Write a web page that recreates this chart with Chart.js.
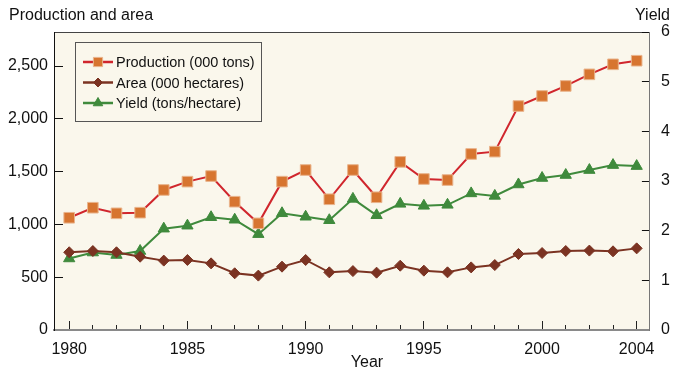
<!DOCTYPE html>
<html>
<head>
<meta charset="utf-8">
<script src="https://cdn.jsdelivr.net/npm/chart.js@4/dist/chart.umd.min.js"></script>
<style>
    html, body { margin: 0; padding: 0; background: #fff; }
    #wrap { position: relative; width: 674px; height: 371px; }
</style>
</head>
<body>
<div id="wrap"><canvas id="chart" width="674" height="371"></canvas></div>
<script>
const years = [1980, 1981, 1982, 1983, 1984, 1985, 1986, 1987, 1988, 1989, 1990, 1991, 1992,
    1993, 1994, 1995, 1996, 1997, 1998, 1999, 2000, 2001, 2002, 2003, 2004];
const production = [1063, 1158, 1105, 1111, 1326, 1405, 1458, 1215, 1010, 1405, 1515, 1238, 1515,
    1257, 1592, 1430, 1420, 1667, 1689, 2121, 2216, 2311, 2421, 2516, 2550];
const area = [736, 748, 736, 694, 657, 663, 631, 537, 515, 600, 663, 546, 558,
    543, 609, 562, 546, 593, 615, 720, 729, 748, 752, 745, 773];
const yieldVals = [1.44, 1.56, 1.51, 1.59, 2.04, 2.10, 2.27, 2.22, 1.93, 2.35, 2.28, 2.21, 2.64,
    2.31, 2.54, 2.50, 2.52, 2.75, 2.70, 2.93, 3.06, 3.12, 3.22, 3.32, 3.30];
const leftTicks = [0, 500, 1000, 1500, 2000, 2500];
const rightTicks = [0, 1, 2, 3, 4, 5, 6];
const majorYears = [1980, 1985, 1990, 1995, 2000, 2004];
const seriesNames = ['Production (000 tons)', 'Area (000 hectares)', 'Yield (tons/hectare)'];

const FONT = '"Liberation Sans", Arial, sans-serif';
const PLOT_BG = '#FAF7EC';
Chart.defaults.font.family = FONT;
Chart.defaults.color = '#111';

const pts = (vals) => years.map((y, i) => ({ x: y, y: vals[i] }));

// plot background, top frame, headings, boxed legend
const decor = {
    id: 'decor',
    beforeDraw(chart) {
        const { ctx, chartArea: a } = chart;
        ctx.save();
        ctx.fillStyle = PLOT_BG;
        ctx.fillRect(a.left, a.top, a.right - a.left, a.bottom - a.top);
        ctx.strokeStyle = '#444';
        ctx.lineWidth = 1;
        ctx.beginPath();
        ctx.moveTo(a.left, a.top + 0.5);
        ctx.lineTo(a.right, a.top + 0.5);
        ctx.stroke();
        ctx.restore();
    },
    afterDraw(chart) {
        const { ctx } = chart;
        ctx.save();
        ctx.fillStyle = '#111';
        ctx.font = '16px ' + FONT;
        ctx.textBaseline = 'alphabetic';
        ctx.textAlign = 'left';
        ctx.fillText('Production and area', 9, 20);
        ctx.textAlign = 'right';
        ctx.fillText('Yield', 670, 20);
        ctx.textAlign = 'center';
        ctx.fillText('Year', 367, 367);

        // legend box
        ctx.fillStyle = PLOT_BG;
        ctx.fillRect(75.5, 42.5, 186, 79);
        ctx.strokeStyle = '#555';
        ctx.lineWidth = 1;
        ctx.strokeRect(75.5, 42.5, 186, 79);
        const rows = [62, 82.5, 103];
        chart.data.datasets.forEach((ds, i) => {
            const y = rows[i];
            ctx.strokeStyle = ds.borderColor;
            ctx.lineWidth = 2.5;
            ctx.beginPath();
            ctx.moveTo(83, y);
            ctx.lineTo(113, y);
            ctx.stroke();
            ctx.fillStyle = ds.pointBackgroundColor;
            ctx.strokeStyle = ds.pointBorderColor;
            ctx.lineWidth = ds.pointBorderWidth;
            Chart.helpers.drawPoint(ctx, { pointStyle: ds.pointStyle, radius: ds.pointRadius - 1, rotation: 0, borderWidth: ds.pointBorderWidth }, 98, y);
            ctx.fillStyle = '#111';
            ctx.font = '14.5px ' + FONT;
            ctx.textAlign = 'left';
            ctx.textBaseline = 'middle';
            ctx.fillText(seriesNames[i], 116, y + 1);
        });
        ctx.restore();
    }
};

new Chart(document.getElementById('chart'), {
    type: 'line',
    data: {
        datasets: [
            {
                label: seriesNames[0], data: pts(production), yAxisID: 'y',
                borderColor: '#D0262D', borderWidth: 2,
                pointStyle: 'rect', pointRadius: 7.5,
                pointBackgroundColor: '#D77530', pointBorderColor: '#E9B48C', pointBorderWidth: 1,
            },
            {
                label: seriesNames[1], data: pts(area), yAxisID: 'y',
                borderColor: '#7B3322', borderWidth: 2,
                pointStyle: 'rectRot', pointRadius: 5.5,
                pointBackgroundColor: '#7B3322', pointBorderColor: '#7B3322', pointBorderWidth: 1,
            },
            {
                label: seriesNames[2], data: pts(yieldVals), yAxisID: 'y1',
                borderColor: '#3F8A3C', borderWidth: 2,
                pointStyle: 'triangle', pointRadius: 6.5,
                pointBackgroundColor: '#3F8A3C', pointBorderColor: '#3F8A3C', pointBorderWidth: 1,
            },
        ],
    },
    options: {
        responsive: false,
        animation: false,
        layout: { padding: { top: 32, left: 0, right: 0, bottom: 0 } },
        plugins: { legend: { display: false }, tooltip: { enabled: false } },
        scales: {
            x: {
                type: 'linear', position: 'bottom', weight: 1,
                min: 1979.357, max: 2004.56,
                afterBuildTicks: (s) => { s.ticks = majorYears.map((v) => ({ value: v })); },
                ticks: { font: { size: 16 }, color: '#111', padding: 19, maxRotation: 0, autoSkip: false, callback: (v) => String(v) },
                grid: { drawOnChartArea: false, tickLength: -9, tickColor: '#222', tickWidth: 1 },
                border: { color: '#8a8a8a', width: 2 },
                afterFit: (s) => { s.height = 41; },
            },
            xMinor: {
                type: 'linear', position: 'bottom', weight: 0,
                min: 1979.357, max: 2004.56,
                afterBuildTicks: (s) => { s.ticks = years.map((v) => ({ value: v })); },
                ticks: { display: false },
                grid: { drawOnChartArea: false, tickLength: -5, tickColor: '#222', tickWidth: 1 },
                border: { display: false },
                afterFit: (s) => { s.height = 0; },
            },
            y: {
                position: 'left', min: 0, max: 2822,
                afterBuildTicks: (s) => { s.ticks = leftTicks.map((v) => ({ value: v })); },
                ticks: { font: { size: 16 }, color: '#111', padding: 15, callback: (v) => v.toLocaleString('en-US') },
                grid: { drawOnChartArea: false, tickLength: -9, tickColor: '#111', tickWidth: 1 },
                border: { color: '#111', width: 1 },
                afterFit: (s) => { s.width = 54; },
            },
            y1: {
                position: 'right', min: 0, max: 6,
                afterBuildTicks: (s) => { s.ticks = rightTicks.map((v) => ({ value: v })); },
                ticks: { font: { size: 16 }, color: '#111', padding: 19, callback: (v) => String(v) },
                grid: { drawOnChartArea: false, tickLength: -8, tickColor: '#111', tickWidth: 1 },
                border: { color: '#777', width: 1 },
                afterFit: (s) => { s.width = 20; },
            },
        },
    },
    plugins: [decor],
});
</script>
</body>
</html>
